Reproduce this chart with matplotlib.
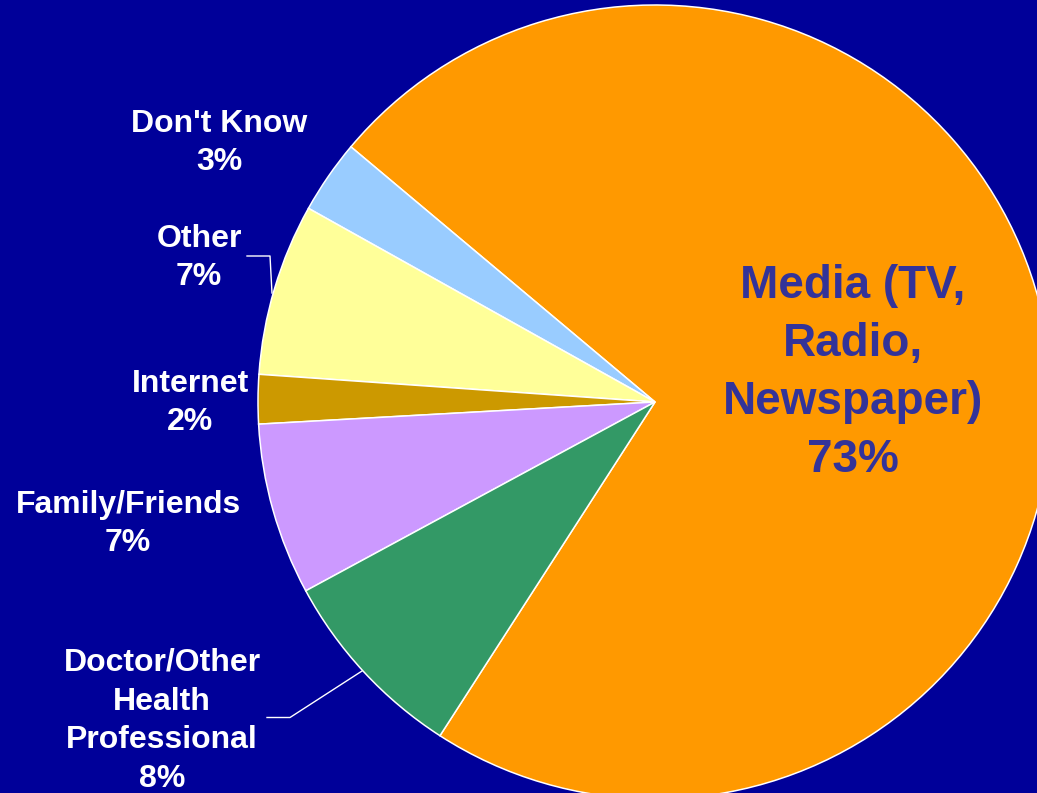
import matplotlib
matplotlib.use("Agg")
import matplotlib.pyplot as plt

# Sources of information (percent of respondents)
categories = ["Media (TV,\nRadio,\nNewspaper)", "Don't Know", "Other", "Internet",
              "Family/Friends", "Doctor/Other\nHealth\nProfessional"]
shares = [73, 3, 7, 2, 7, 8]
colors = ["#FF9900", "#99CCFF", "#FFFF99", "#CC9900", "#CC99FF", "#339966"]

bg = "#000099"
W, H = 1037, 793
fig = plt.figure(figsize=(W / 100, H / 100), dpi=100, facecolor=bg)
ax = fig.add_axes([0, 0, 1, 1])
ax.set_facecolor(bg)

cx, cy, r = 655, H - 402, 397
wedges, _ = ax.pie(shares, colors=colors, startangle=237.2, counterclock=True,
                   center=(cx, cy), radius=r,
                   wedgeprops=dict(edgecolor="white", linewidth=1.1))
ax.set_xlim(0, W)
ax.set_ylim(0, H)
ax.set_aspect("equal")
ax.set_axis_off()

font = "Liberation Sans"

# Large label inside the media slice
ax.text(853, H - 373, f"{categories[0]}\n{shares[0]}%", ha="center", va="center",
        color="#333399", fontsize=33, fontweight="bold", family=font,
        linespacing=1.42)

# Outside labels (positions in pixel coordinates)
label_pos = {1: (219, 143), 2: (199, 258), 3: (190, 403), 4: (128, 524), 5: (162, 721)}
for i, (x, y) in label_pos.items():
    ax.text(x, H - y, f"{categories[i]}\n{shares[i]}%", ha="center", va="center",
            color="white", fontsize=23, fontweight="bold", family=font,
            linespacing=1.39)

# Leader lines
ax.plot([247, 270, 272], [H - 256, H - 256, H - 293], color="white", lw=1.0)
ax.plot([267, 290, 362], [H - 717.5, H - 717.5, H - 671], color="white", lw=1.0)

fig.savefig("out.png", dpi=100, facecolor=bg)
